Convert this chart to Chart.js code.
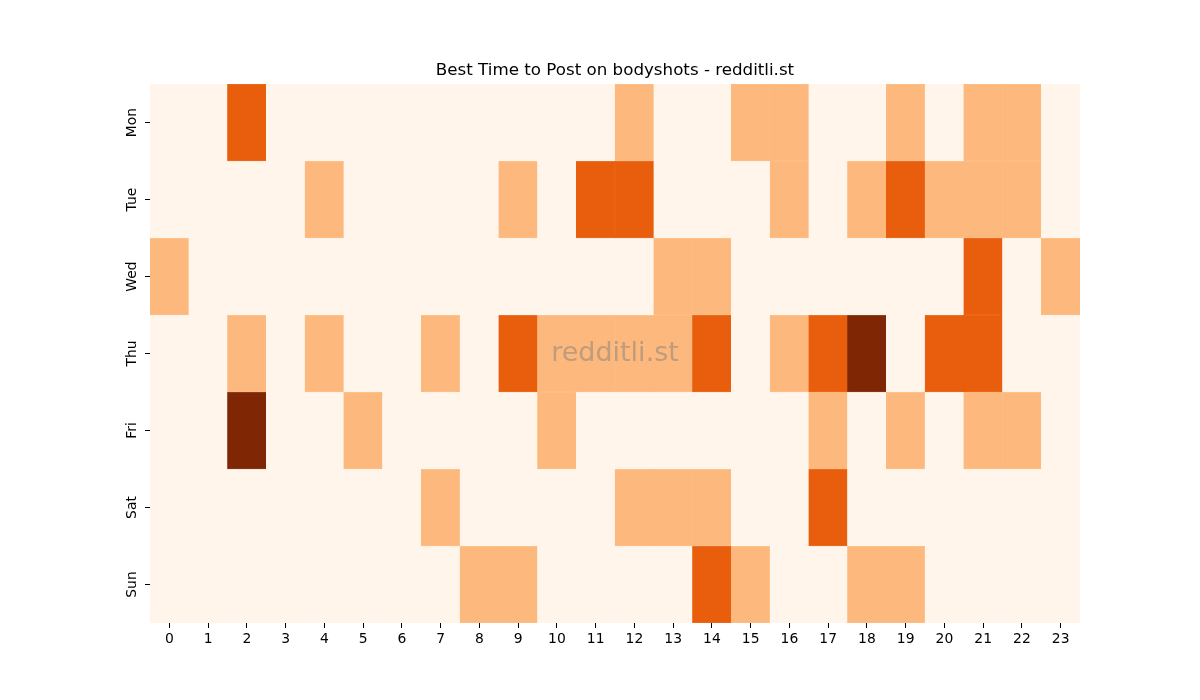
<!DOCTYPE html>
<html>
<head>
<meta charset="utf-8">
<title>Best Time to Post on bodyshots</title>
<script src="https://cdn.jsdelivr.net/npm/chart.js@4.4.1/dist/chart.umd.min.js"></script>
<style>
    html, body { margin: 0; padding: 0; background: #fff; }
    #wrap { width: 1200px; height: 700px; }
</style>
</head>
<body>
<div id="wrap"><canvas id="heat"></canvas></div>
<script>
// heatmap levels (0 = none, 3 = best)
const hours = ['0', '1', '2', '3', '4', '5', '6', '7', '8', '9', '10', '11',
    '12', '13', '14', '15', '16', '17', '18', '19', '20', '21', '22', '23'];
const days = ['Mon', 'Tue', 'Wed', 'Thu', 'Fri', 'Sat', 'Sun'];

const mon = [0, 0, 2, 0, 0, 0, 0, 0, 0, 0, 0, 0, 1, 0, 0, 1, 1, 0, 0, 1, 0, 1, 1, 0];
const tue = [0, 0, 0, 0, 1, 0, 0, 0, 0, 1, 0, 2, 2, 0, 0, 0, 1, 0, 1, 2, 1, 1, 1, 0];
const wed = [1, 0, 0, 0, 0, 0, 0, 0, 0, 0, 0, 0, 0, 1, 1, 0, 0, 0, 0, 0, 0, 2, 0, 1];
const thu = [0, 0, 1, 0, 1, 0, 0, 1, 0, 2, 1, 1, 1, 1, 2, 0, 1, 2, 3, 0, 2, 2, 0, 0];
const fri = [0, 0, 3, 0, 0, 1, 0, 0, 0, 0, 1, 0, 0, 0, 0, 0, 0, 1, 0, 1, 0, 1, 1, 0];
const sat = [0, 0, 0, 0, 0, 0, 0, 1, 0, 0, 0, 0, 1, 1, 1, 0, 0, 2, 0, 0, 0, 0, 0, 0];
const sun = [0, 0, 0, 0, 0, 0, 0, 0, 1, 1, 0, 0, 0, 0, 2, 1, 0, 0, 1, 1, 0, 0, 0, 0];
const rows = [mon, tue, wed, thu, fri, sat, sun];

// Oranges colormap steps
const levelColors = ['#fff5eb', '#fdb97d', '#e95e0d', '#7f2704'];

const datasets = rows.map(function(vals, r) {
    const fill = vals.map(function(v) { return levelColors[v]; });
    return {
        label: days[r],
        data: vals.map(function() { return [r, r + 1]; }),
        backgroundColor: fill,
        borderColor: fill,
        borderWidth: 0.5,
        borderSkipped: false,
        grouped: false,
        barPercentage: 1.0,
        categoryPercentage: 1.0
    };
});

const watermark = {
    id: 'watermark',
    afterDatasetsDraw: function(chart) {
        const a = chart.chartArea;
        const ctx = chart.ctx;
        ctx.save();
        ctx.font = '27px "DejaVu Sans"';
        ctx.fillStyle = 'rgba(128,128,128,0.5)';
        ctx.textAlign = 'center';
        ctx.textBaseline = 'middle';
        ctx.fillText('redditli.st', (a.left + a.right) / 2, (a.top + a.bottom) / 2);
        ctx.restore();
    }
};

const tickFont = { family: 'DejaVu Sans', size: 13.9 };

new Chart(document.getElementById('heat').getContext('2d'), {
    type: 'bar',
    data: { labels: hours, datasets: datasets },
    options: {
        responsive: true,
        maintainAspectRatio: false,
        animation: false,
        layout: { padding: { left: 120, right: 120, top: 61, bottom: 52 } },
        plugins: {
            legend: { display: false },
            tooltip: { enabled: false },
            title: {
                display: true,
                fullSize: false,   // centre over the plot, not the canvas
                text: 'Best Time to Post on bodyshots - redditli.st',
                color: '#000',
                font: { family: 'DejaVu Sans', size: 16.7, weight: 'normal' },
                padding: { top: 0, bottom: 3 }
            }
        },
        scales: {
            x: {
                type: 'category',
                offset: true,
                border: { display: false },
                grid: { offset: false, drawOnChartArea: false, drawTicks: true, tickLength: 5, color: '#000' },
                ticks: { color: '#000', font: tickFont, padding: 3, maxRotation: 0, autoSkip: false },
                afterFit: function(scale) { scale.height = 25; }
            },
            y: {
                type: 'linear',
                min: 0,
                max: 7,
                reverse: true,
                border: { display: false },
                grid: { drawOnChartArea: false, drawTicks: true, tickLength: 5, color: '#000' },
                afterBuildTicks: function(scale) {
                    scale.ticks = days.map(function(d, i) { return { value: i + 0.5 }; });
                },
                ticks: {
                    color: '#000',
                    font: tickFont,
                    minRotation: 90,
                    maxRotation: 90,
                    crossAlign: 'center',
                    padding: -3,
                    callback: function(value) { return days[Math.floor(value)]; }
                },
                afterFit: function(scale) { scale.width = 30; }
            }
        }
    },
    plugins: [watermark]
});
</script>
</body>
</html>
